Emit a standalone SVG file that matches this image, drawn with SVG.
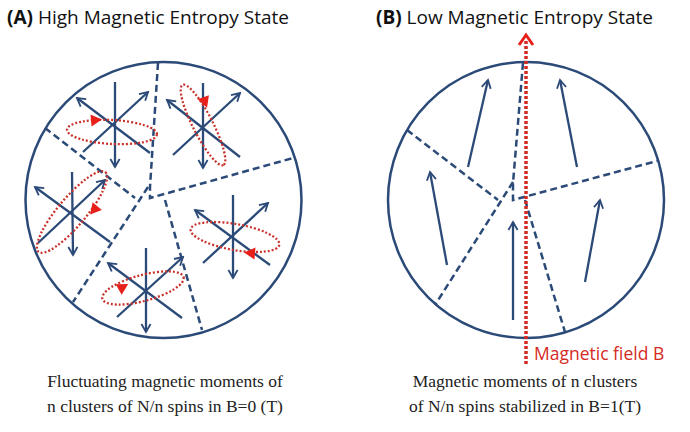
<svg xmlns="http://www.w3.org/2000/svg" width="690" height="432" viewBox="0 0 690 432">
<defs>
<marker id="ah" viewBox="0 0 10 10" refX="8" refY="5" markerWidth="5" markerHeight="5" orient="auto"><path d="M1,1 L8,5 L1,9" fill="none" stroke="#2b4a78" stroke-width="1.6"/></marker>
<polygon id="rh" points="6,0 -5,-6 -5,6" fill="#e8201c"/>
</defs>
<style>
.c{fill:none;stroke:#2b4a78;stroke-width:2.5}
.d{fill:none;stroke:#2b4a78;stroke-width:2.5;stroke-dasharray:7 4}
.a{stroke:#2b4a78;stroke-width:2.3;marker-end:url(#ah)}
.e{fill:none;stroke:#c8332d;stroke-width:2.3;stroke-dasharray:2 2}
.t{font-family:"Open Sans",sans-serif;font-size:19px;fill:#111}
.s{font-family:"Liberation Serif",serif;font-size:17.5px;fill:#222;text-anchor:middle}
</style>
<rect width="690" height="432" fill="#fff"/>
<text class="t" x="7" y="24"><tspan font-weight="bold">(A)</tspan> High Magnetic Entropy State</text>
<text class="t" x="376" y="24"><tspan font-weight="bold">(B)</tspan> Low Magnetic Entropy State</text>
<g id="circleA">
<circle class="c" cx="163.5" cy="200" r="138"/>
<g id="dividersA">
<polyline class="d" points="158,63 150,187 150,198 293,158"/>
<line class="d" x1="45" y1="128" x2="135" y2="198"/>
<line class="d" x1="148" y1="187" x2="73" y2="302"/>
<line class="d" x1="165" y1="200" x2="202" y2="330"/>
</g>
<g id="cluster1">
<line class="a" x1="115" y1="82" x2="115" y2="167"/>
<line class="a" x1="83" y1="152" x2="148" y2="92"/>
<line class="a" x1="150" y1="153" x2="77" y2="98"/>
<ellipse class="e" cx="112" cy="132" rx="45" ry="12" transform="rotate(3 112 132)"/>
<use href="#rh" transform="translate(96,120) rotate(-5)"/>
</g>
<g id="cluster2">
<line class="a" x1="203" y1="83" x2="203" y2="168"/>
<line class="a" x1="173" y1="155" x2="240" y2="93"/>
<line class="a" x1="240" y1="157" x2="167" y2="100"/>
<ellipse class="e" cx="203" cy="125" rx="45" ry="10" transform="rotate(63 203 125)"/>
<use href="#rh" transform="translate(205,102) rotate(70)"/>
</g>
<g id="cluster3">
<line class="a" x1="72" y1="172" x2="73" y2="255"/>
<line class="a" x1="38" y1="243" x2="105" y2="180"/>
<line class="a" x1="110" y1="242" x2="35" y2="187"/>
<ellipse class="e" cx="72" cy="212" rx="52" ry="14" transform="rotate(-50 72 212)"/>
<use href="#rh" transform="translate(94,210) rotate(130)"/>
</g>
<g id="cluster4">
<line class="a" x1="233" y1="195" x2="233" y2="278"/>
<line class="a" x1="203" y1="263" x2="268" y2="203"/>
<line class="a" x1="270" y1="265" x2="195" y2="210"/>
<ellipse class="e" cx="235" cy="237" rx="45" ry="13" transform="rotate(10 235 237)"/>
<use href="#rh" transform="translate(250,253) rotate(185)"/>
</g>
<g id="cluster5">
<line class="a" x1="146" y1="248" x2="146" y2="332"/>
<line class="a" x1="117" y1="317" x2="183" y2="257"/>
<line class="a" x1="182" y1="318" x2="108" y2="263"/>
<ellipse class="e" cx="143" cy="288" rx="42" ry="13" transform="rotate(-15 143 288)"/>
<use href="#rh" transform="translate(123,287) rotate(-30)"/>
</g>
</g>
<g id="circleB">
<circle class="c" cx="526" cy="200" r="138"/>
<g id="dividersB">
<polyline class="d" points="523,63 513,183 513,200 657,161"/>
<line class="d" x1="407" y1="130" x2="498" y2="200"/>
<line class="d" x1="513" y1="182" x2="435" y2="305"/>
<line class="d" x1="525" y1="200" x2="565" y2="332"/>
</g>
<g id="spinsB">
<line class="a" x1="468" y1="167" x2="488" y2="80"/>
<line class="a" x1="577" y1="167" x2="560" y2="80"/>
<line class="a" x1="447" y1="265" x2="430" y2="172"/>
<line class="a" x1="513" y1="320" x2="513" y2="222"/>
<line class="a" x1="585" y1="282" x2="600" y2="200"/>
</g>
</g>
<g id="field">
<line x1="526" y1="364" x2="526" y2="40" stroke="#d42a24" stroke-width="3.5" stroke-dasharray="3 2"/>
<polyline points="519,45 526,35 533,45" fill="none" stroke="#e8201c" stroke-width="3"/>
<text x="534" y="360" font-family="'Open Sans',sans-serif" font-size="17.5" fill="#d42a24">Magnetic field B</text>
</g>
<text class="s" x="165" y="387">Fluctuating magnetic moments of</text>
<text class="s" x="165" y="412">n clusters of N/n spins in B=0 (T)</text>
<text class="s" x="525" y="387">Magnetic moments of n clusters</text>
<text class="s" x="525" y="412">of N/n spins stabilized in B=1(T)</text>
</svg>
